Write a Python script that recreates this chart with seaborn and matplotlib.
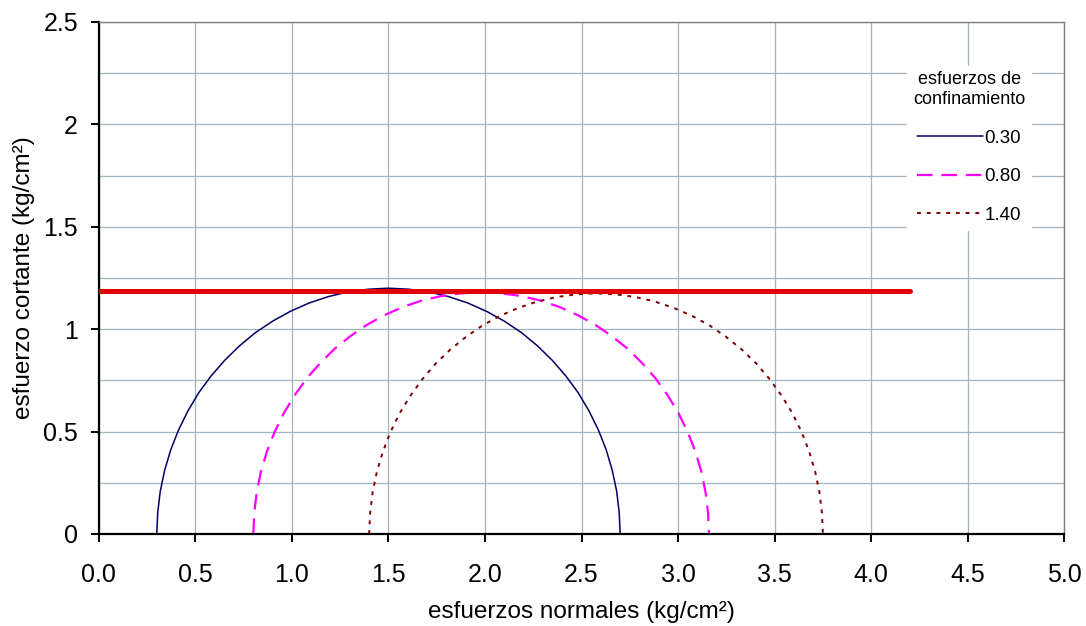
import matplotlib
matplotlib.use("Agg")
import matplotlib.pyplot as plt
from matplotlib.ticker import MultipleLocator, FuncFormatter
import seaborn as sns

# esfuerzos de confinamiento (leyenda)
confinamiento = ["0.30", "0.80", "1.40"]

# circulo de Mohr, sigma3 = 0.30
sigma_030 = [0.300, 0.305, 0.318, 0.341, 0.372, 0.413, 0.461, 0.517, 0.581, 0.652,
             0.729, 0.811, 0.900, 0.992, 1.090, 1.189, 1.292, 1.396, 1.500, 1.604,
             1.708, 1.811, 1.910, 2.008, 2.100, 2.189, 2.271, 2.348, 2.419, 2.483,
             2.539, 2.587, 2.628, 2.659, 2.682, 2.695, 2.700]
tau_030 = [0.000, 0.104, 0.208, 0.311, 0.410, 0.508, 0.600, 0.689, 0.771, 0.848,
           0.919, 0.983, 1.039, 1.087, 1.128, 1.159, 1.182, 1.195, 1.200, 1.195,
           1.182, 1.159, 1.128, 1.087, 1.039, 0.983, 0.919, 0.848, 0.771, 0.689,
           0.600, 0.508, 0.410, 0.311, 0.208, 0.104, 0.000]

# sigma3 = 0.80
sigma_080 = [0.800, 0.805, 0.818, 0.840, 0.871, 0.911, 0.958, 1.014, 1.076, 1.146,
             1.221, 1.303, 1.390, 1.481, 1.576, 1.674, 1.775, 1.877, 1.980, 2.083,
             2.185, 2.286, 2.384, 2.479, 2.570, 2.657, 2.739, 2.814, 2.884, 2.946,
             3.002, 3.049, 3.089, 3.120, 3.142, 3.155, 3.160]
tau_080 = [0.000, 0.103, 0.205, 0.306, 0.404, 0.499, 0.590, 0.677, 0.759, 0.834,
           0.904, 0.966, 1.022, 1.069, 1.109, 1.140, 1.162, 1.175, 1.180, 1.175,
           1.162, 1.140, 1.109, 1.069, 1.022, 0.966, 0.904, 0.834, 0.759, 0.677,
           0.590, 0.499, 0.404, 0.306, 0.205, 0.103, 0.000]

# sigma3 = 1.40
sigma_140 = [1.400, 1.405, 1.418, 1.440, 1.471, 1.510, 1.557, 1.613, 1.675, 1.744,
             1.820, 1.901, 1.987, 2.078, 2.173, 2.271, 2.371, 2.473, 2.575, 2.677,
             2.779, 2.879, 2.977, 3.072, 3.163, 3.249, 3.330, 3.406, 3.475, 3.537,
             3.593, 3.640, 3.679, 3.710, 3.732, 3.745, 3.750]
tau_140 = [0.000, 0.102, 0.204, 0.304, 0.402, 0.497, 0.588, 0.674, 0.755, 0.831,
           0.900, 0.962, 1.018, 1.065, 1.104, 1.135, 1.157, 1.170, 1.175, 1.170,
           1.157, 1.135, 1.104, 1.065, 1.018, 0.962, 0.900, 0.831, 0.755, 0.674,
           0.588, 0.497, 0.402, 0.304, 0.204, 0.102, 0.000]

# envolvente (linea roja)
env_sigma = [0.0, 4.2]
env_tau = [1.185, 1.185]

sns.set_style("white")
plt.rcParams["font.family"] = ["Liberation Sans", "DejaVu Sans"]
plt.rcParams["text.color"] = "black"
plt.rcParams["axes.labelcolor"] = "black"
plt.rcParams["xtick.color"] = "black"
plt.rcParams["ytick.color"] = "black"

fig, ax = plt.subplots(figsize=(10.86, 6.26), dpi=100)
fig.subplots_adjust(left=0.091, right=0.98, top=0.965, bottom=0.147)

grid_color = "#9fb5bf"

sns.lineplot(x=sigma_030, y=tau_030, sort=False, estimator=None, ax=ax,
             color="#000066", linewidth=1.1, label=confinamiento[0])
sns.lineplot(x=sigma_080, y=tau_080, sort=False, estimator=None, ax=ax,
             color="#ff00ff", linewidth=1.6, dashes=(7, 4), label=confinamiento[1])
sns.lineplot(x=sigma_140, y=tau_140, sort=False, estimator=None, ax=ax,
             color="#800000", linewidth=1.4, dashes=(2, 3), label=confinamiento[2])
sns.lineplot(x=env_sigma, y=env_tau, sort=False, estimator=None, ax=ax,
             color="#e00000", linewidth=3.6, zorder=5, legend=False)

ax.set_xlim(0, 5.0)
ax.set_ylim(0, 2.5)
ax.xaxis.set_major_locator(MultipleLocator(0.5))
ax.yaxis.set_major_locator(MultipleLocator(0.5))
ax.yaxis.set_minor_locator(MultipleLocator(0.25))
ax.xaxis.set_major_formatter(FuncFormatter(lambda v, p: f"{v:.1f}"))
ax.yaxis.set_major_formatter(FuncFormatter(lambda v, p: f"{v:g}"))

ax.grid(True, which="major", color=grid_color, linewidth=0.9)
ax.grid(True, which="minor", axis="y", color=grid_color, linewidth=0.9)
ax.set_axisbelow(True)

for s in ["left", "bottom"]:
    ax.spines[s].set_color("black")
    ax.spines[s].set_linewidth(1.6)
for s in ["top", "right"]:
    ax.spines[s].set_color("#808080")
    ax.spines[s].set_linewidth(1.0)

ax.tick_params(axis="both", which="major", direction="out", length=6,
               width=1.4, color="black", labelsize=18,
               left=True, bottom=True)
ax.tick_params(axis="x", which="major", pad=15)
ax.tick_params(axis="y", which="major", pad=9)
ax.tick_params(axis="y", which="minor", length=0)

ax.set_xlabel("esfuerzos normales (kg/cm²)", fontsize=17.5, labelpad=10)
ax.set_ylabel("esfuerzo cortante (kg/cm²)", fontsize=17.5, labelpad=6)

handles, labels = ax.get_legend_handles_labels()
leg = ax.legend(handles[:3], labels[:3], title="esfuerzos de\nconfinamiento",
                loc="upper left", bbox_to_anchor=(0.827, 0.91),
                bbox_transform=fig.transFigure,
                fontsize=13.5, title_fontsize=13, frameon=True,
                facecolor="white", edgecolor="white", framealpha=1,
                fancybox=False, handlelength=3.5, handletextpad=0.1,
                labelspacing=1.15, borderpad=0.3)
leg.get_title().set_multialignment("center")

fig.savefig("out.png", dpi=100)
